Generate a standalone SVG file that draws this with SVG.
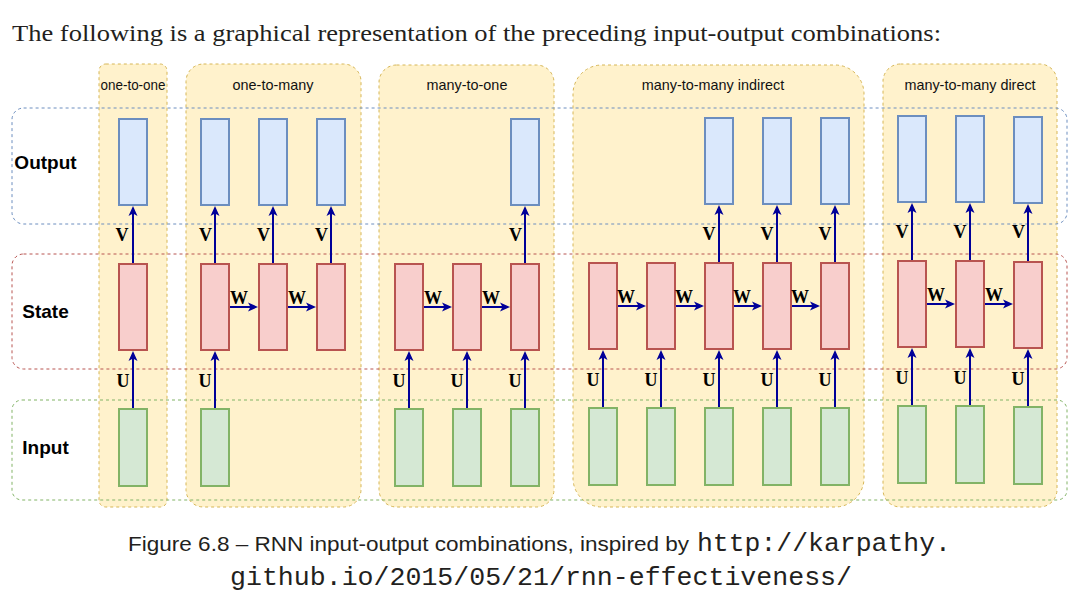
<svg xmlns="http://www.w3.org/2000/svg" width="1088" height="611" viewBox="0 0 1088 611">
<style>
.panel{fill:#fff2cc;stroke:#d6b656;stroke-width:1;stroke-dasharray:3 3}
.row{fill:none;stroke-width:1;stroke-dasharray:3 3}
.ro{stroke:#6c8ebf}.rs{stroke:#b85450}.ri{stroke:#82b366}
.out{fill:#dae8fc;stroke:#6c8ebf;stroke-width:2}
.st{fill:#f8cecc;stroke:#b85450;stroke-width:2}
.inp{fill:#d5e8d4;stroke:#82b366;stroke-width:2}
.title{font-family:"Liberation Sans",Arial,sans-serif;font-size:14.4px;fill:#111;text-anchor:middle}
.rowlab{font-family:"Liberation Sans",Arial,sans-serif;font-size:19px;font-weight:bold;fill:#000;text-anchor:middle}
.wl{font-family:"Liberation Serif","Times New Roman",serif;font-size:18px;font-weight:bold;fill:#000}
.vu{text-anchor:middle}
.arr{stroke:#000099;stroke-width:2;fill:none;marker-end:url(#ah)}
.body{font-family:"Liberation Serif","Times New Roman",serif;font-size:23px;fill:#231f20}
.cap{font-family:"Liberation Sans",Arial,sans-serif;font-size:20.5px;fill:#231f20}
.mono{font-family:"Liberation Mono","Courier New",monospace;font-size:26.4px;fill:#231f20}
</style>
<defs>
<marker id="ah" viewBox="0 0 10 10" refX="8" refY="5" markerWidth="10" markerHeight="10" markerUnits="userSpaceOnUse" orient="auto">
<path d="M0,0.5 L10,5 L0,9.5 L2.5,5 z" fill="#000099"/>
</marker>
</defs>
<rect width="1088" height="611" fill="#ffffff"/>
<text class="body" x="12" y="41" textLength="929" lengthAdjust="spacingAndGlyphs">The following is a graphical representation of the preceding input-output combinations:</text>

<g id="panels">
<g id="panel-one-to-one"><rect class="panel" x="99" y="64" width="68" height="443" rx="6.8"/><text class="title" x="133" y="89.5" textLength="65" lengthAdjust="spacingAndGlyphs">one-to-one</text></g>
<g id="panel-one-to-many"><rect class="panel" x="186" y="64" width="175" height="443" rx="17.5"/><text class="title" x="273" y="89.5">one-to-many</text></g>
<g id="panel-many-to-one"><rect class="panel" x="379" y="65" width="175" height="442" rx="17.5"/><text class="title" x="467" y="89.5">many-to-one</text></g>
<g id="panel-many-to-many-indirect"><rect class="panel" x="573" y="65" width="291" height="442" rx="29"/><text class="title" x="713" y="89.5">many-to-many indirect</text></g>
<g id="panel-many-to-many-direct"><rect class="panel" x="883" y="64" width="174" height="443" rx="17.4"/><text class="title" x="970" y="89.5">many-to-many direct</text></g>
</g>

<g id="rows">
<g id="row-output"><rect class="row ro" x="12" y="108" width="1055" height="116" rx="11.6"/><text class="rowlab" x="45.5" y="169">Output</text></g>
<g id="row-state"><rect class="row rs" x="12" y="254" width="1055" height="115" rx="11.5"/><text class="rowlab" x="45.5" y="318">State</text></g>
<g id="row-input"><rect class="row ri" x="12" y="400" width="1055" height="100" rx="10"/><text class="rowlab" x="45.5" y="454">Input</text></g>
</g>

<g id="cells">
<!-- one-to-one -->
<rect id="o11-out" class="out" x="119" y="119" width="28" height="86"/>
<rect id="o11-st" class="st" x="119" y="264" width="28" height="86"/>
<rect id="o11-in" class="inp" x="119" y="409" width="28" height="77"/>
<!-- one-to-many -->
<rect id="o1m-out1" class="out" x="201" y="119" width="28" height="86"/>
<rect id="o1m-out2" class="out" x="259" y="119" width="28" height="86"/>
<rect id="o1m-out3" class="out" x="317" y="119" width="28" height="86"/>
<rect id="o1m-st1" class="st" x="201" y="264" width="28" height="86"/>
<rect id="o1m-st2" class="st" x="259" y="264" width="28" height="86"/>
<rect id="o1m-st3" class="st" x="317" y="264" width="28" height="86"/>
<rect id="o1m-in1" class="inp" x="201" y="409" width="28" height="77"/>
<!-- many-to-one -->
<rect id="m1-out3" class="out" x="511" y="119" width="28" height="86"/>
<rect id="m1-st1" class="st" x="395" y="264" width="28" height="86"/>
<rect id="m1-st2" class="st" x="453" y="264" width="28" height="86"/>
<rect id="m1-st3" class="st" x="511" y="264" width="28" height="86"/>
<rect id="m1-in1" class="inp" x="395" y="409" width="28" height="77"/>
<rect id="m1-in2" class="inp" x="453" y="409" width="28" height="77"/>
<rect id="m1-in3" class="inp" x="511" y="409" width="28" height="77"/>
<!-- many-to-many indirect -->
<rect id="mi-out3" class="out" x="705" y="118" width="28" height="86"/>
<rect id="mi-out4" class="out" x="763" y="118" width="28" height="86"/>
<rect id="mi-out5" class="out" x="821" y="118" width="28" height="86"/>
<rect id="mi-st1" class="st" x="589" y="263" width="28" height="86"/>
<rect id="mi-st2" class="st" x="647" y="263" width="28" height="86"/>
<rect id="mi-st3" class="st" x="705" y="263" width="28" height="86"/>
<rect id="mi-st4" class="st" x="763" y="263" width="28" height="86"/>
<rect id="mi-st5" class="st" x="821" y="263" width="28" height="86"/>
<rect id="mi-in1" class="inp" x="589" y="408" width="28" height="77"/>
<rect id="mi-in2" class="inp" x="647" y="408" width="28" height="77"/>
<rect id="mi-in3" class="inp" x="705" y="408" width="28" height="77"/>
<rect id="mi-in4" class="inp" x="763" y="408" width="28" height="77"/>
<rect id="mi-in5" class="inp" x="821" y="408" width="28" height="77"/>
<!-- many-to-many direct -->
<rect id="md-out1" class="out" x="898" y="116" width="28" height="86"/>
<rect id="md-out2" class="out" x="956" y="116" width="28" height="86"/>
<rect id="md-out3" class="out" x="1014" y="117" width="28" height="86"/>
<rect id="md-st1" class="st" x="898" y="261" width="28" height="86"/>
<rect id="md-st2" class="st" x="956" y="261" width="28" height="86"/>
<rect id="md-st3" class="st" x="1014" y="262" width="28" height="86"/>
<rect id="md-in1" class="inp" x="898" y="406" width="28" height="77"/>
<rect id="md-in2" class="inp" x="956" y="406" width="28" height="77"/>
<rect id="md-in3" class="inp" x="1014" y="407" width="28" height="77"/>
</g>

<g id="connectors">
<!-- V arrows -->
<line class="arr" x1="133" y1="263" x2="133" y2="208"/>
<line class="arr" x1="215" y1="263" x2="215" y2="208"/>
<line class="arr" x1="273" y1="263" x2="273" y2="208"/>
<line class="arr" x1="331" y1="263" x2="331" y2="208"/>
<line class="arr" x1="525" y1="263" x2="525" y2="208"/>
<line class="arr" x1="719" y1="262" x2="719" y2="207"/>
<line class="arr" x1="777" y1="262" x2="777" y2="207"/>
<line class="arr" x1="835" y1="262" x2="835" y2="207"/>
<line class="arr" x1="912" y1="260" x2="912" y2="205"/>
<line class="arr" x1="970" y1="260" x2="970" y2="205"/>
<line class="arr" x1="1028" y1="261" x2="1028" y2="206"/>
<!-- U arrows -->
<line class="arr" x1="133" y1="408" x2="133" y2="353"/>
<line class="arr" x1="215" y1="408" x2="215" y2="353"/>
<line class="arr" x1="409" y1="408" x2="409" y2="353"/>
<line class="arr" x1="467" y1="408" x2="467" y2="353"/>
<line class="arr" x1="525" y1="408" x2="525" y2="353"/>
<line class="arr" x1="603" y1="407" x2="603" y2="352"/>
<line class="arr" x1="661" y1="407" x2="661" y2="352"/>
<line class="arr" x1="719" y1="407" x2="719" y2="352"/>
<line class="arr" x1="777" y1="407" x2="777" y2="352"/>
<line class="arr" x1="835" y1="407" x2="835" y2="352"/>
<line class="arr" x1="912" y1="405" x2="912" y2="350"/>
<line class="arr" x1="970" y1="405" x2="970" y2="350"/>
<line class="arr" x1="1028" y1="406" x2="1028" y2="351"/>
<!-- W arrows -->
<line class="arr" x1="230" y1="307" x2="256" y2="307"/>
<line class="arr" x1="288" y1="307" x2="314" y2="307"/>
<line class="arr" x1="424" y1="307" x2="450" y2="307"/>
<line class="arr" x1="482" y1="307" x2="508" y2="307"/>
<line class="arr" x1="618" y1="306" x2="644" y2="306"/>
<line class="arr" x1="676" y1="306" x2="702" y2="306"/>
<line class="arr" x1="734" y1="306" x2="760" y2="306"/>
<line class="arr" x1="792" y1="306" x2="818" y2="306"/>
<line class="arr" x1="927" y1="304" x2="953" y2="304"/>
<line class="arr" x1="985" y1="304" x2="1011" y2="304"/>
<!-- labels -->
<g class="wl vu">
<text x="122" y="241">V</text>
<text x="205.5" y="241">V</text>
<text x="263.5" y="241">V</text>
<text x="321.5" y="241">V</text>
<text x="515.5" y="241">V</text>
<text x="709" y="240">V</text>
<text x="767" y="240">V</text>
<text x="825" y="240">V</text>
<text x="902" y="238">V</text>
<text x="960" y="238">V</text>
<text x="1018.5" y="238">V</text>
<text x="123" y="387">U</text>
<text x="205" y="387">U</text>
<text x="399" y="387">U</text>
<text x="457" y="387">U</text>
<text x="515" y="387">U</text>
<text x="593" y="386">U</text>
<text x="651" y="386">U</text>
<text x="709" y="386">U</text>
<text x="767" y="386">U</text>
<text x="825" y="386">U</text>
<text x="902" y="384">U</text>
<text x="960" y="384">U</text>
<text x="1018" y="385">U</text>
</g>
<g class="wl">
<text x="230" y="304">W</text>
<text x="288" y="304">W</text>
<text x="424" y="304">W</text>
<text x="482" y="304">W</text>
<text x="617" y="303">W</text>
<text x="675" y="303">W</text>
<text x="733" y="303">W</text>
<text x="791" y="303">W</text>
<text x="927" y="301">W</text>
<text x="985" y="301">W</text>
</g>
</g>

<text class="cap" x="128" y="551" textLength="561" lengthAdjust="spacingAndGlyphs">Figure 6.8 – RNN input-output combinations, inspired by</text>
<text class="mono" x="697" y="551" textLength="254" lengthAdjust="spacingAndGlyphs">http://karpathy.</text>
<text class="mono" x="230" y="585" textLength="622" lengthAdjust="spacingAndGlyphs">github.io/2015/05/21/rnn-effectiveness/</text>
</svg>
